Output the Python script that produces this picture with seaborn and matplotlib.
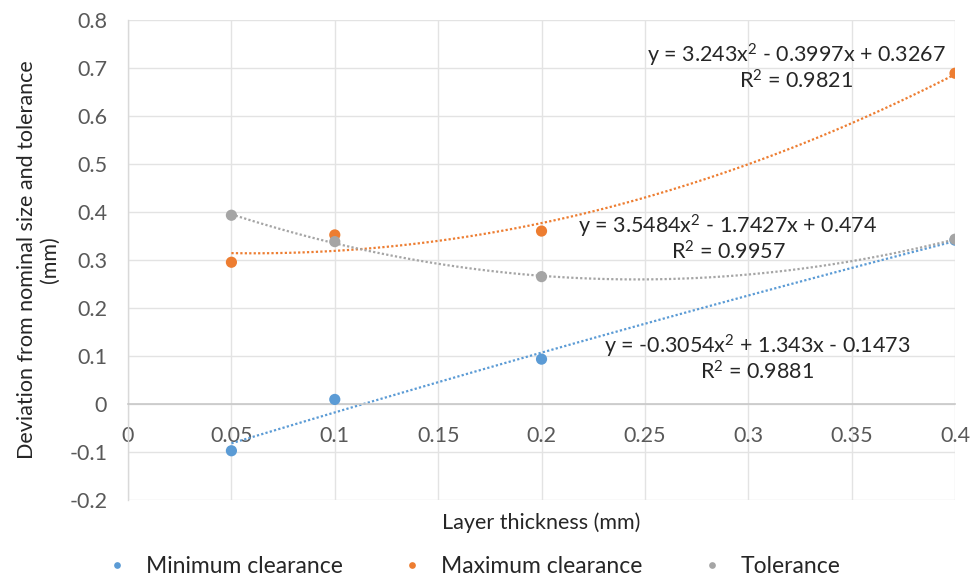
import numpy as np
import pandas as pd
import seaborn as sns
import matplotlib
matplotlib.use("Agg")
import matplotlib.pyplot as plt

# ---- data ----
layer_thickness = [0.05, 0.1, 0.2, 0.4]
min_clearance = [-0.098, 0.009, 0.093, 0.341]
max_clearance = [0.295, 0.352, 0.360, 0.689]
tolerance = [0.393, 0.338, 0.265, 0.343]
series_names = ["Minimum clearance", "Maximum clearance", "Tolerance"]
series_colors = ["#5B9BD5", "#ED7D31", "#A5A5A5"]
trend_labels = [
    "y = -0.3054x$^2$ + 1.343x - 0.1473\nR$^2$ = 0.9881",
    "y = 3.243x$^2$ - 0.3997x + 0.3267\nR$^2$ = 0.9821",
    "y = 3.5484x$^2$ - 1.7427x + 0.474\nR$^2$ = 0.9957",
]
trend_label_pos = [(0.3042, 0.095), (0.3231, 0.702), (0.2902, 0.345)]
x_ticks = [0, 0.05, 0.1, 0.15, 0.2, 0.25, 0.3, 0.35, 0.4]
x_tick_labels = ["0", "0.05", "0.1", "0.15", "0.2", "0.25", "0.3", "0.35", "0.4"]
y_ticks = [-0.2, -0.1, 0, 0.1, 0.2, 0.3, 0.4, 0.5, 0.6, 0.7, 0.8]
y_tick_labels = ["-0.2", "-0.1", "0", "0.1", "0.2", "0.3", "0.4", "0.5", "0.6", "0.7", "0.8"]
x_title = "Layer thickness (mm)"
y_title = "Deviation from nominal size and tolerance\n(mm)"

values = [min_clearance, max_clearance, tolerance]
df = pd.DataFrame({
    "x": np.tile(layer_thickness, 3),
    "y": np.concatenate(values),
    "series": np.repeat(series_names, len(layer_thickness)),
})

sns.set_theme(style="white")
plt.rcParams["font.family"] = ["Lato", "DejaVu Sans"]
plt.rcParams["mathtext.fontset"] = "custom"
plt.rcParams["mathtext.rm"] = "Lato"
plt.rcParams["mathtext.it"] = "Lato:italic"
plt.rcParams["mathtext.bf"] = "Lato:bold"

fig, ax = plt.subplots(figsize=(9.73, 5.83), dpi=100)
fig.subplots_adjust(left=0.1316, right=0.9815, top=0.9657, bottom=0.1429)

# trendlines (2nd order polynomial)
for name, color in zip(series_names, series_colors):
    sub = df[df["series"] == name]
    sns.regplot(data=sub, x="x", y="y", order=2, ci=None, scatter=False, ax=ax,
                line_kws=dict(color=color, linestyle=(0, (1, 1)), linewidth=1.6))

sns.scatterplot(data=df, x="x", y="y", hue="series", palette=series_colors,
                s=65, edgecolor="none", ax=ax, zorder=5)

ax.set_xlim(0, 0.4)
ax.set_ylim(-0.2, 0.8)
ax.set_xticks(x_ticks)
ax.set_xticklabels(x_tick_labels)
ax.set_yticks(y_ticks)
ax.set_yticklabels(y_tick_labels)
ax.grid(True, color="#E3E3E3", linewidth=1)
ax.set_axisbelow(True)

for s in ["top", "right"]:
    ax.spines[s].set_visible(False)
ax.spines["left"].set_color("#D9D9D9")
ax.spines["left"].set_linewidth(1)
ax.spines["bottom"].set_position(("data", 0))
ax.spines["bottom"].set_color("#C8C8C8")
ax.spines["bottom"].set_linewidth(1.2)

ax.tick_params(axis="both", length=0, labelsize=15.5, labelcolor="#595959")
ax.tick_params(axis="x", pad=16)
ax.tick_params(axis="y", pad=15)

ax.set_xlabel(x_title, fontsize=15.5, color="#262626")
ax.set_ylabel(y_title, fontsize=15.5, color="#262626", multialignment="center")
ax.xaxis.set_label_coords(0.5, -0.026)
ax.yaxis.set_label_coords(-0.082, 0.5)

for lab, (tx, ty) in zip(trend_labels, trend_label_pos):
    ax.text(tx, ty, lab, ha="center", va="center", multialignment="center",
            fontsize=15.5, color="#262626", linespacing=1.05, zorder=6)

handles, labels = ax.get_legend_handles_labels()
if ax.get_legend() is not None:
    ax.get_legend().remove()
fig.legend(handles, labels, ncol=3, frameon=False, loc="center",
           bbox_to_anchor=(0.4805, 0.028), fontsize=16.5, markerscale=0.6,
           handletextpad=0.25, columnspacing=2.05, labelcolor="#262626")

fig.savefig("out.png", dpi=100)
